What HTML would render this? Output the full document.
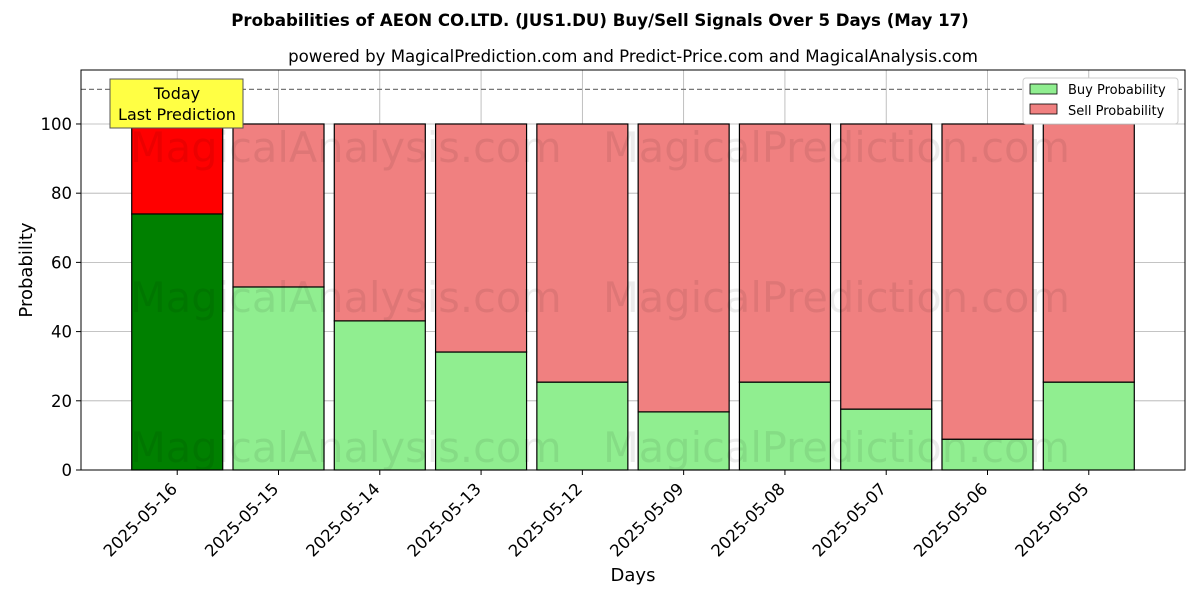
<!DOCTYPE html>
<html><head><meta charset="utf-8"><style>body{margin:0;background:#fff}svg{display:block;font-family:"DejaVu Sans","Liberation Sans",sans-serif}</style></head>
<body>
<svg id="chart" width="1200" height="600" xmlns="http://www.w3.org/2000/svg">
<text x="600" y="26" text-anchor="middle" font-size="16.6" font-weight="bold">Probabilities of AEON CO.LTD. (JUS1.DU) Buy/Sell Signals Over 5 Days (May 17)</text>
<text x="633" y="62" text-anchor="middle" font-size="16.6">powered by MagicalPrediction.com and Predict-Price.com and MagicalAnalysis.com</text>
<g id="grid"></g><g id="bars"></g>
<g font-size="41.5" fill="#000" opacity="0.07">
<text x="130" y="162">MagicalAnalysis.com</text><text x="603" y="162">MagicalPrediction.com</text>
<text x="130" y="312">MagicalAnalysis.com</text><text x="603" y="312">MagicalPrediction.com</text>
<text x="130" y="462">MagicalAnalysis.com</text><text x="603" y="462">MagicalPrediction.com</text>
</g>
<g id="axes"></g>
<text x="633" y="581" text-anchor="middle" font-size="18">Days</text>
<text transform="translate(32,270) rotate(-90)" text-anchor="middle" font-size="18">Probability</text>
<g>
<rect x="110" y="79" width="133" height="49" fill="#ffff44" stroke="#555" stroke-width="1"/>
<text x="177" y="99" text-anchor="middle" font-size="16">Today</text>
<text x="177" y="120" text-anchor="middle" font-size="16">Last Prediction</text>
</g>
<g>
<rect x="1023" y="78" width="155" height="46" fill="#fff" stroke="#ccc" rx="3"/>
<rect x="1030" y="84" width="27" height="10" fill="#90ee90" stroke="#000" stroke-width="0.8"/>
<text x="1068" y="94" font-size="13">Buy Probability</text>
<rect x="1030" y="104" width="27" height="10" fill="#f08080" stroke="#000" stroke-width="0.8"/>
<text x="1068" y="115" font-size="13">Sell Probability</text>
</g>
</svg>
<script>
const categories=["2025-05-16","2025-05-15","2025-05-14","2025-05-13","2025-05-12","2025-05-09","2025-05-08","2025-05-07","2025-05-06","2025-05-05"];
const buyValues=[74,52.9,43.1,34.1,25.4,16.8,25.4,17.6,8.9,25.4];
const sellValues=buyValues.map(v=>100-v);
const yTicks=[0,20,40,60,80,100];
const NS="http://www.w3.org/2000/svg";
const L=81,R=1185,T=70,B=470;
const xS=i=>L+(i+0.95)/10.9*(R-L);
const yS=v=>B-v/115.6*(B-T);
function mk(tag,attrs,parent){const e=document.createElementNS(NS,tag);for(const k in attrs)e.setAttribute(k,attrs[k]);parent.appendChild(e);return e;}
const grid=document.getElementById('grid'),bars=document.getElementById('bars'),axes=document.getElementById('axes');
yTicks.forEach(t=>{const y=yS(t);
const g=mk('line',{x1:L,x2:R,y1:y,y2:y,stroke:'#b0b0b0','stroke-width':0.8},grid);


mk('line',{x1:L-5,x2:L,y1:y,y2:y,stroke:'#000'},axes);
const tx=mk('text',{x:L-9,y:y+6,'text-anchor':'end','font-size':16.5},axes);tx.textContent=t;

});
categories.forEach((c,i)=>{const x=xS(i);
const g=mk('line',{x1:x,x2:x,y1:T,y2:B,stroke:'#b0b0b0','stroke-width':0.8},grid);


const w=91,bx=x-w/2;
const b1=mk('rect',{x:bx,y:yS(buyValues[i]),width:w,height:yS(0)-yS(buyValues[i]),fill:i==0?'#008000':'#90ee90',stroke:'#000','stroke-width':1.2},bars);


const b2=mk('rect',{x:bx,y:yS(buyValues[i]+sellValues[i]),width:w,height:yS(buyValues[i])-yS(buyValues[i]+sellValues[i]),fill:i==0?'#ff0000':'#f08080',stroke:'#000','stroke-width':1.2},bars);


mk('line',{x1:x,x2:x,y1:B,y2:B+5,stroke:'#000'},axes);
const ax=x+1,ay=B+20;
const tx=mk('text',{x:ax,y:ay,'text-anchor':'end','font-size':16.5,transform:`rotate(-45 ${ax} ${ay})`},axes);tx.textContent=c;

});
const d=mk('line',{x1:L,x2:R,y1:yS(110),y2:yS(110),stroke:'#777','stroke-dasharray':'5,3','stroke-width':1.2},axes);


const f=mk('rect',{x:L,y:T,width:R-L,height:B-T,fill:'none',stroke:'#000','stroke-width':1},axes);


</script>
</body></html>
